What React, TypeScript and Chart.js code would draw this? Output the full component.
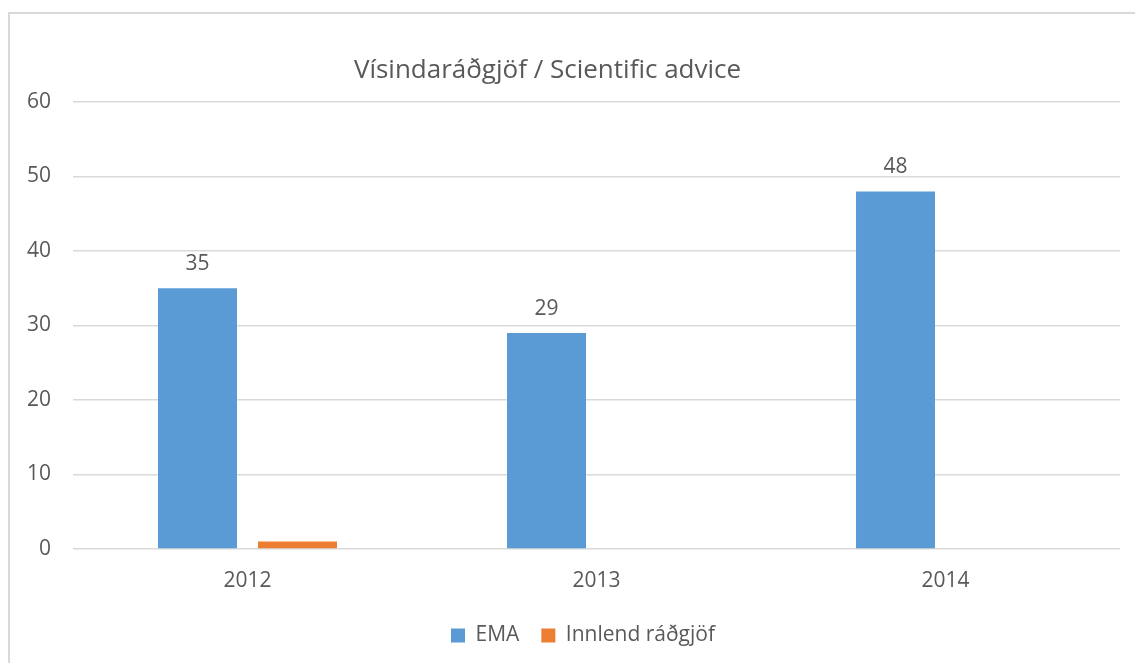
import React, { useEffect, useRef } from "react";
import { Chart, registerables } from "chart.js";

Chart.register(...registerables);

const titleText = "Vísindaráðgjöf / Scientific advice";
const categories = ["2012", "2013", "2014"];
const seriesNames = ["EMA", "Innlend ráðgjöf"];
const emaValues = [35, 29, 48];
const innlendValues = [1, 0, 0];
const yMin = 0;
const yMax = 60;
const yStep = 10;

const FONT = "'Open Sans', 'DejaVu Sans', sans-serif";
const TEXT = "#595959";
const GRID = "#d9d9d9";
const BLUE = "#5b9bd5";
const ORANGE = "#ed7d31";

const titlePlugin = {
  id: "customTitle",
  afterDraw(chart: any) {
    const ctx = chart.ctx;
    ctx.save();
    ctx.font = `26px ${FONT}`;
    ctx.fillStyle = TEXT;
    ctx.textAlign = "center";
    ctx.textBaseline = "alphabetic";
    ctx.fillText(titleText, 547.5, 78);
    ctx.restore();
  },
};

const valueLabelPlugin = {
  id: "valueLabels",
  afterDatasetsDraw(chart: any) {
    const ctx = chart.ctx;
    const meta = chart.getDatasetMeta(0);
    ctx.save();
    ctx.font = `21px ${FONT}`;
    ctx.fillStyle = TEXT;
    ctx.textAlign = "center";
    ctx.textBaseline = "alphabetic";
    meta.data.forEach((bar: any, i: number) => {
      ctx.fillText(String(emaValues[i]), bar.x, bar.y - 18);
    });
    ctx.restore();
  },
};

// let the y-axis tick labels extend to the left of the padded area without being clipped
const axisBoxPlugin = {
  id: "axisBox",
  afterLayout(chart: any) {
    const y = chart.scales.y;
    if (y) y.left = 0;
  },
};

export default function App() {
  const canvasRef = useRef<HTMLCanvasElement | null>(null);

  useEffect(() => {
    if (!canvasRef.current) return;
    const chart = new Chart(canvasRef.current, {
      type: "bar",
      data: {
        labels: categories,
        datasets: [
          {
            label: seriesNames[0],
            data: emaValues,
            backgroundColor: BLUE,
            borderWidth: 0,
            categoryPercentage: 0.573,
            barPercentage: 0.79,
          },
          {
            label: seriesNames[1],
            data: innlendValues,
            backgroundColor: ORANGE,
            borderWidth: 0,
            categoryPercentage: 0.573,
            barPercentage: 0.79,
          },
        ],
      },
      options: {
        animation: false,
        responsive: false,
        events: [],
        layout: { padding: { top: 102, left: 46, right: 15, bottom: 7 } },
        scales: {
          x: {
            grid: { display: false },
            border: { display: false },
            ticks: {
              color: TEXT,
              font: { family: FONT, size: 21 },
              padding: 11,
            },
            afterFit(scale: any) {
              scale.height = 54;
            },
          },
          y: {
            min: yMin,
            max: yMax,
            grid: { color: GRID, lineWidth: 1.5, drawTicks: false },
            border: { display: false },
            ticks: {
              stepSize: yStep,
              color: TEXT,
              font: { family: FONT, size: 21 },
              padding: 22,
            },
            afterFit(scale: any) {
              scale.width = 27;
            },
          },
        },
        plugins: {
          title: { display: false },
          tooltip: { enabled: false },
          legend: {
            display: true,
            position: "bottom",
            labels: {
              color: TEXT,
              font: { family: FONT, size: 21 },
              boxWidth: 14,
              boxHeight: 14,
              padding: 22,
            },
          },
        },
      },
      plugins: [titlePlugin, valueLabelPlugin, axisBoxPlugin],
    });
    return () => chart.destroy();
  }, []);

  return (
    <div
      style={{
        position: "fixed",
        left: 0,
        top: 0,
        width: "100vw",
        height: "100vh",
        overflow: "hidden",
        background: "#ffffff",
      }}
    >
      <div
        style={{
          position: "absolute",
          left: 8,
          top: 12,
          width: 1300,
          height: 900,
          border: `2px solid ${GRID}`,
          boxSizing: "border-box",
        }}
      />
      <canvas
        ref={canvasRef}
        width={1135}
        height={663}
        style={{ position: "absolute", left: 0, top: 0, width: 1135, height: 663 }}
      />
    </div>
  );
}
